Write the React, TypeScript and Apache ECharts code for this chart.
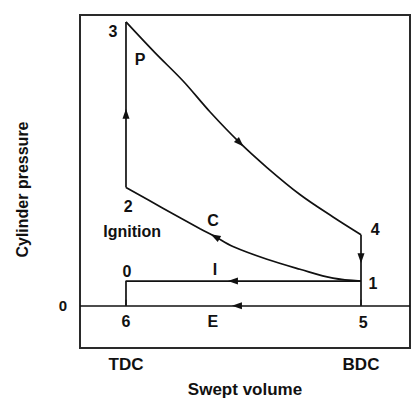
import React, { useEffect, useRef } from "react";
import * as echarts from "echarts";

// Swept volume: 0 = TDC, 100 = BDC (percent of stroke); pressure in arbitrary units
const xTickValues = [0, 100];
const xTickLabels = ["TDC", "BDC"];
const yTickValues = [0];
const yTickLabels = ["0"];

// 3 -> 4 expansion (power) curve
const expansionX = [0, 12.3, 24.3, 35.7, 48.5, 60.0, 74.0, 88.1, 100];
const expansionY = [60, 53.5, 47.5, 41.0, 34.4, 29.2, 23.5, 18.75, 15.0];

// 1 -> 2 compression curve
const compressionX = [100, 88.1, 74.0, 60.0, 45.5, 37.9, 31.5, 15.7, 0];
const compressionY = [5.2, 5.8, 7.7, 9.8, 12.5, 14.6, 16.25, 20.6, 25.0];

// 2 -> 3 combustion at TDC
const combustionX = [0, 0];
const combustionY = [25.0, 60];

// 4 -> 1 -> 5 blow-down at BDC
const blowdownX = [100, 100];
const blowdownY = [15.0, 0];

// 6 -> 0 -> 1 intake
const intakeX = [0, 0, 100];
const intakeY = [0, 5.2, 5.2];

// direction arrows: x, y, rotation
const arrowX = [0, 48.5, 37.9, 100, 45.5, 47.2];
const arrowY = [40.6, 34.4, 14.6, 10.0, 5.2, 0];
const arrowRot = [0, -135, 61, 180, 90, 90];

// annotations
const noteText = ["3", "P", "2", "Ignition", "C", "4", "1", "0", "I", "6", "E", "5"];
const noteX = [-5.5, 6.0, 0.9, 2.6, 37.0, 106.0, 105.1, 0.4, 37.9, 0, 37.0, 100.9];
const noteY = [57.9, 52.1, 21.0, 15.6, 18.1, 16.0, 4.6, 7.3, 7.7, -3.3, -3.3, -3.5];

const xMin = -19.57;
const xMax = 120.85;
const yMin = -8.96;
const yMax = 61.46;

const pair = (xs: number[], ys: number[]) => xs.map((x, i) => [x, ys[i]]);

const FONT = "'Liberation Sans', Arial, sans-serif";
const INK = "#111";

export default function App() {
  const ref = useRef<HTMLDivElement>(null);

  useEffect(() => {
    if (!ref.current) return;
    const chart = echarts.init(ref.current, undefined, { renderer: "svg" });

    const lineSeries = (name: string, xs: number[], ys: number[], extra: any = {}) => ({
      name,
      type: "line",
      data: pair(xs, ys),
      showSymbol: false,
      symbol: "none",
      smooth: false,
      lineStyle: { color: INK, width: 1.7 },
      silent: true,
      z: 3,
      ...extra,
    });

    chart.setOption({
      animation: false,
      backgroundColor: "#ffffff",
      grid: {
        left: 80,
        right: 2,
        top: 15,
        bottom: 50,
        show: true,
        borderColor: "#2a2a2a",
        borderWidth: 2,
        backgroundColor: "transparent",
      },
      xAxis: {
        type: "value",
        min: xMin,
        max: xMax,
        name: "Swept volume",
        nameLocation: "middle",
        nameGap: 33,
        nameTextStyle: { fontFamily: FONT, fontSize: 17, fontWeight: "bold", color: "#111" },
        axisLine: { show: false },
        splitLine: { show: false },
        axisTick: {
          show: true,
          inside: true,
          length: 6,
          customValues: xTickValues,
          lineStyle: { color: "#333", width: 1.5 },
        },
        axisLabel: {
          show: true,
          customValues: xTickValues,
          margin: 8,
          fontFamily: FONT,
          fontSize: 17,
          fontWeight: "bold",
          color: "#111",
          formatter: (v: number) => {
            const i = xTickValues.indexOf(v);
            return i >= 0 ? xTickLabels[i] : "";
          },
        },
      },
      yAxis: {
        type: "value",
        min: yMin,
        max: yMax,
        name: "Cylinder pressure",
        nameLocation: "middle",
        nameRotate: 90,
        nameGap: 50,
        nameTextStyle: {
          fontFamily: FONT,
          fontSize: 16,
          fontWeight: "bold",
          color: "#111",
          padding: [0, 16, 0, 0],
        },
        axisLine: { show: false },
        splitLine: { show: false },
        axisTick: { show: false },
        axisLabel: {
          show: true,
          customValues: yTickValues,
          margin: 13,
          fontFamily: FONT,
          fontSize: 15,
          fontWeight: "bold",
          color: "#111",
          formatter: (v: number) => {
            const i = yTickValues.indexOf(v);
            return i >= 0 ? yTickLabels[i] : "";
          },
        },
      },
      series: [
        lineSeries("Expansion", expansionX, expansionY, { smooth: 0.35 }),
        lineSeries("Compression", compressionX, compressionY, { smooth: 0.35 }),
        lineSeries("Combustion", combustionX, combustionY),
        lineSeries("Blow-down", blowdownX, blowdownY),
        lineSeries("Intake", intakeX, intakeY, {
          markLine: {
            silent: true,
            symbol: "none",
            label: { show: false },
            lineStyle: { color: INK, width: 1.7, type: "solid" },
            data: [{ yAxis: 0 }],
          },
        }),
        {
          name: "Arrows",
          type: "scatter",
          silent: true,
          z: 5,
          data: arrowX.map((x, i) => ({
            value: [x, arrowY[i]],
            symbolRotate: arrowRot[i],
          })),
          symbol: "triangle",
          symbolSize: [7, 10],
          itemStyle: { color: INK, opacity: 1 },
        },
        {
          name: "Notes",
          type: "scatter",
          silent: true,
          z: 6,
          symbolSize: 1,
          itemStyle: { color: "rgba(0,0,0,0)", opacity: 1 },
          data: noteX.map((x, i) => ({ value: [x, noteY[i]], name: noteText[i] })),
          label: {
            show: true,
            position: "inside",
            formatter: (p: any) => p.name,
            fontFamily: FONT,
            fontSize: 16,
            fontWeight: "bold",
            color: "#111",
            opacity: 1,
          },
        },
      ],
    });

    return () => chart.dispose();
  }, []);

  return (
    <div
      ref={ref}
      style={{ position: "fixed", left: 0, top: 0, width: 412, height: 403, background: "#fff" }}
    />
  );
}
